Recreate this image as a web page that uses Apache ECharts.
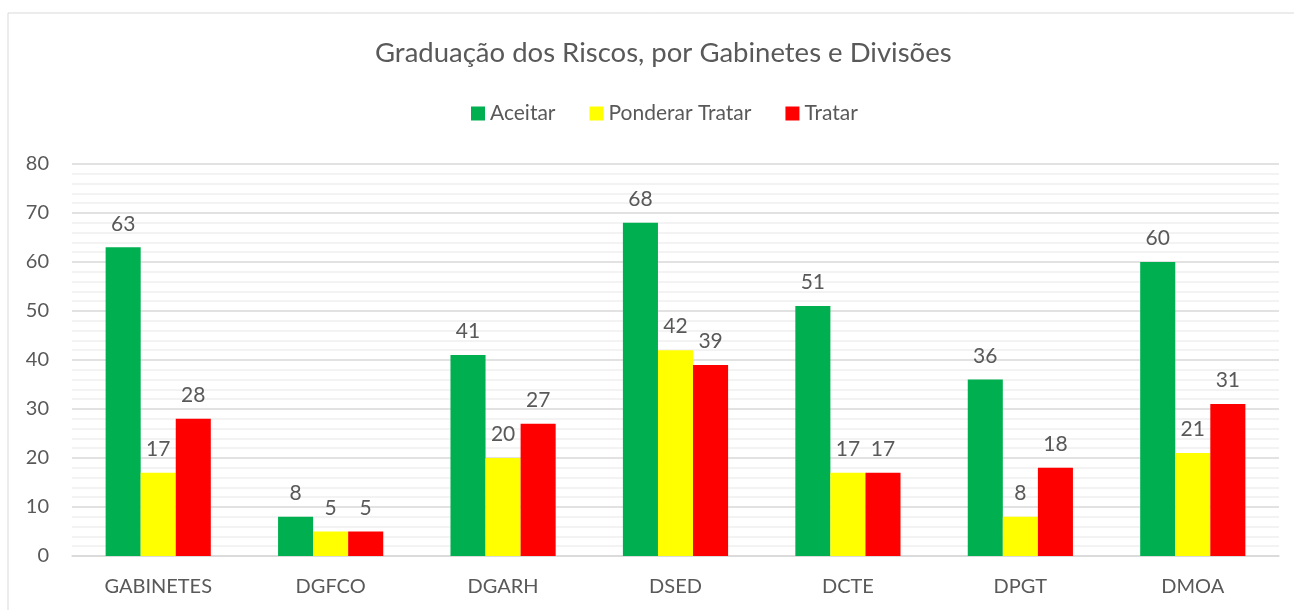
<!DOCTYPE html>
<html>
<head>
<meta charset="utf-8">
<title>Graduação dos Riscos</title>
<script src="https://cdn.jsdelivr.net/npm/echarts@6/dist/echarts.min.js"></script>
<style>
    html, body { margin: 0; padding: 0; background: #fff; }
    #chart { width: 1294px; height: 610px; }
</style>
</head>
<body>
<div id="chart"></div>
<script>
// data
var categories = ['GABINETES', 'DGFCO', 'DGARH', 'DSED', 'DCTE', 'DPGT', 'DMOA'];
var aceitar = [63, 8, 41, 68, 51, 36, 60];
var ponderarTratar = [17, 5, 20, 42, 17, 8, 21];
var tratar = [28, 5, 27, 39, 17, 18, 31];

var textColor = '#595959';
var fontName = 'Lato, "Open Sans", sans-serif';

var chart = echarts.init(document.getElementById('chart'));

function barSeries(name, data, color) {
    return {
        name: name,
        type: 'bar',
        data: data,
        barGap: '0%',
        barCategoryGap: '39%',
        itemStyle: { color: color },
        label: {
            show: true,
            position: 'top',
            distance: 13,
            color: textColor,
            fontFamily: fontName,
            fontSize: 21
        }
    };
}

var option = {
    backgroundColor: '#fff',
    textStyle: { fontFamily: fontName },
    graphic: [{
        type: 'rect',
        shape: { x: 8, y: 13, width: 1300, height: 620 },
        style: { fill: 'none', stroke: '#d9d9d9', lineWidth: 1 },
        silent: true
    }],
    title: {
        text: 'Graduação dos Riscos, por Gabinetes e Divisões',
        left: 370,
        top: 34,
        textStyle: { color: textColor, fontFamily: fontName, fontSize: 27.5, fontWeight: 'normal' }
    },
    legend: {
        top: 98,
        left: 466,
        itemWidth: 14,
        itemHeight: 14,
        itemGap: 34,
        icon: 'rect',
        textStyle: { color: textColor, fontFamily: fontName, fontSize: 21 },
        data: ['Aceitar', 'Ponderar Tratar', 'Tratar']
    },
    grid: { left: 72, right: 15, top: 164, bottom: 54 },
    xAxis: {
        type: 'category',
        data: categories,
        axisTick: { show: false },
        axisLine: { lineStyle: { color: '#d9d9d9', width: 1.5 } },
        axisLabel: { color: textColor, fontFamily: fontName, fontSize: 20, margin: 21 }
    },
    yAxis: {
        type: 'value',
        min: 0,
        max: 80,
        interval: 10,
        axisLine: { show: false },
        axisTick: { show: false },
        axisLabel: { color: textColor, fontFamily: fontName, fontSize: 20, margin: 23 },
        splitLine: { lineStyle: { color: '#d9d9d9', width: 1.5 } },
        minorTick: { show: false, splitNumber: 5 },
        minorSplitLine: { show: true, lineStyle: { color: '#f0f0f0', width: 1.5 } }
    },
    series: [
        barSeries('Aceitar', aceitar, '#00b050'),
        barSeries('Ponderar Tratar', ponderarTratar, '#ffff00'),
        barSeries('Tratar', tratar, '#ff0000')
    ]
};

chart.setOption(option);
</script>
</body>
</html>
